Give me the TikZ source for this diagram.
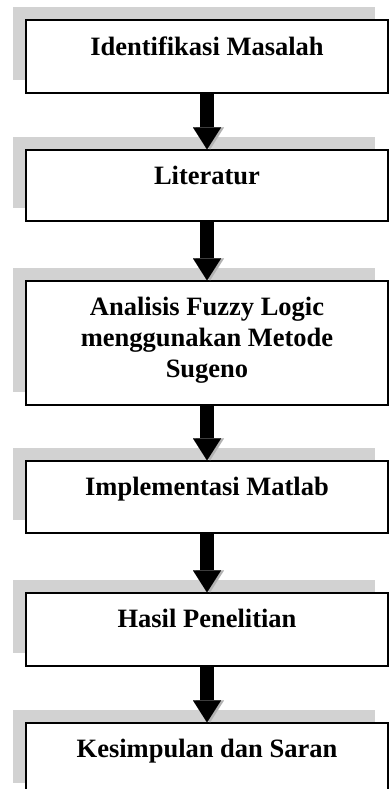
\documentclass[tikz,border=0pt]{standalone}
\usepackage{fontspec}
\setmainfont{Liberation Serif}
\usetikzlibrary{arrows.meta,shadows}
\tikzset{
    stepbox/.style={rectangle,draw,line width=1.2pt,fill=white,minimum width=362pt,
        drop shadow={shadow xshift=-13pt,shadow yshift=13pt,fill=gray!35,opacity=1}},
    steptext/.style={anchor=base,align=center,inner sep=0pt,
        font=\fontsize{26.5}{31}\selectfont\bfseries},
    flowarrow/.style={line width=14pt,-{Triangle[width=28pt,length=22pt,line width=0.01pt]},
        preaction={draw=gray!60,transform canvas={xshift=3pt}}}
}

\begin{document}
\begin{tikzpicture}[x=1pt,y=-1pt]
    \useasboundingbox (0,0) rectangle (389,789);
    % boxes
    \node[stepbox,minimum height=73pt] (b1) at (207,56.5) {};
    \node[stepbox,minimum height=71pt] (b2) at (207,185.5) {};
    \node[stepbox,minimum height=124pt] (b3) at (207,343) {};
    \node[stepbox,minimum height=72pt] (b4) at (207,497) {};
    \node[stepbox,minimum height=73pt] (b5) at (207,629.5) {};
    \node[stepbox,minimum height=73pt] (b6) at (207,759.5) {};
    % labels (base = last line)
    \node[steptext] (t1) at ([yshift=-36pt]b1.north) {Identifikasi Masalah};
    \node[steptext] (t2) at ([yshift=-35pt]b2.north) {Literatur};
    \node[steptext] (t3) at ([yshift=-97pt]b3.north) {Analisis Fuzzy Logic\\menggunakan Metode\\Sugeno};
    \node[steptext] (t4) at ([yshift=-35pt]b4.north) {Implementasi Matlab};
    \node[steptext] (t5) at ([yshift=-35pt]b5.north) {Hasil Penelitian};
    \node[steptext] (t6) at ([yshift=-35pt]b6.north) {Kesimpulan dan Saran};
    % arrows
    \foreach \a/\b in {b1/b2,b2/b3,b3/b4,b4/b5,b5/b6}
        \draw[flowarrow] (\a.south) -- (\b.north);
\end{tikzpicture}
\end{document}
